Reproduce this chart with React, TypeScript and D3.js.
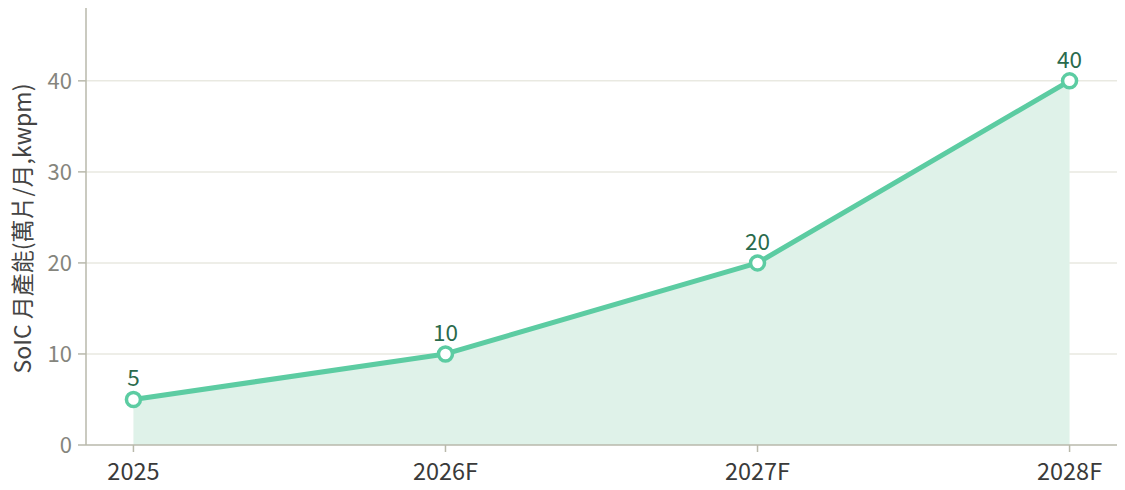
import * as d3 from "d3";

const years = ["2025", "2026F", "2027F", "2028F"];
const capacity = [5, 10, 20, 40];
const yTicks = [0, 10, 20, 30, 40];

const W = 1125;
const H = 490;
const m = { top: 8, right: 8, bottom: 45, left: 86 };

const FONT = "'Noto Sans CJK TC', 'Noto Sans', sans-serif";

export default function App() {
  const x = d3.scalePoint<string>().domain(years).range([m.left, W - m.right]).padding(0.152);
  const y = d3.scaleLinear().domain([0, 48]).range([H - m.bottom, m.top]);

  const pts: [number, number][] = years.map((yr, i) => [x(yr) as number, y(capacity[i])]);
  const line = d3.line()(pts) || "";
  const area = d3.area<[number, number]>().x(d => d[0]).y0(y(0)).y1(d => d[1])(pts) || "";

  const green = "#5ccca2";

  return (
    <svg width={W} height={H} style={{ position: "absolute", left: 0, top: 0, fontFamily: FONT }}>
      {/* grid */}
      {yTicks.filter(t => t > 0).map(t => (
        <line key={t} x1={m.left} x2={W - m.right} y1={y(t)} y2={y(t)} stroke="#e9e9e1" strokeWidth={1.5} />
      ))}
      <path d={area} fill="#dff2e9" />
      {/* axes */}
      <line x1={m.left} x2={m.left} y1={m.top} y2={y(0)} stroke="#b9b9ab" strokeWidth={1.5} />
      <line x1={m.left} x2={W - m.right} y1={y(0)} y2={y(0)} stroke="#b9b9ab" strokeWidth={1.5} />
      {yTicks.map(t => (
        <g key={t} transform={`translate(${m.left},${y(t)})`}>
          <line x1={-8} x2={0} stroke="#b9b9ab" strokeWidth={1.5} />
          <text x={-14} dy="0.35em" textAnchor="end" fontSize={22} fill="#85857d">{t}</text>
        </g>
      ))}
      {years.map(yr => (
        <g key={yr} transform={`translate(${x(yr)},${y(0)})`}>
          <line y1={0} y2={7} stroke="#b9b9ab" strokeWidth={1.5} />
          <text y={35} textAnchor="middle" fontSize={23.5} fill="#3a3a3a">{yr}</text>
        </g>
      ))}
      <text transform={`translate(31,${(m.top + y(0)) / 2 + 2}) rotate(-90)`} textAnchor="middle" fontSize={23} fill="#444">
        SoIC 月產能(萬片/月,kwpm)
      </text>
      <path d={line} fill="none" stroke={green} strokeWidth={5} strokeLinejoin="round" />
      {pts.map((p, i) => (
        <g key={years[i]}>
          <circle cx={p[0]} cy={p[1]} r={7} fill="#fff" stroke={green} strokeWidth={3.5} />
          <text x={p[0]} y={p[1] - 13} textAnchor="middle" fontSize={22.5} fill="#2a6a4c">{capacity[i]}</text>
        </g>
      ))}
    </svg>
  );
}
